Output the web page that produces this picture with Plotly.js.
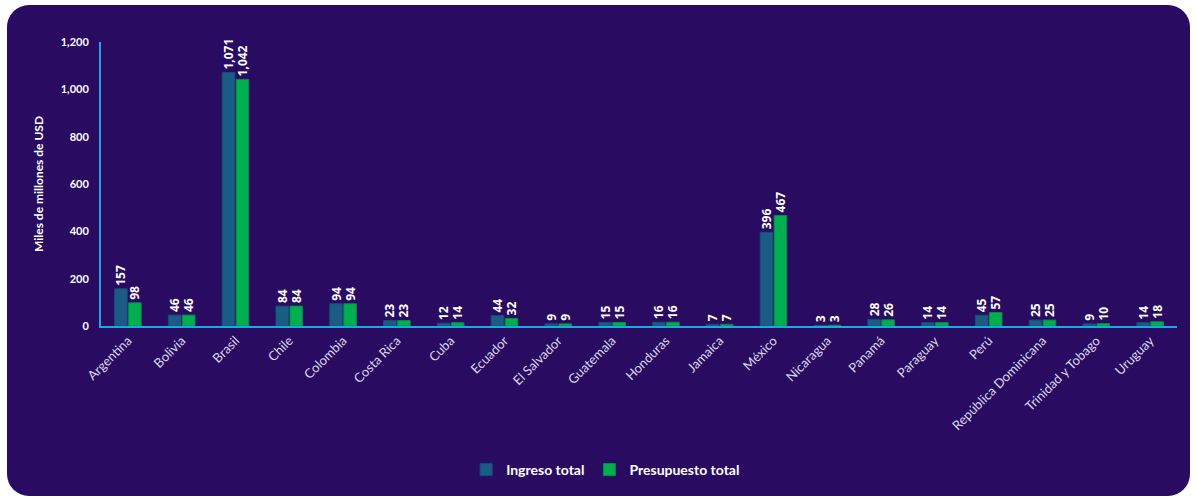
<!DOCTYPE html>
<html>
<head>
<meta charset="utf-8">
<script src="https://cdn.plot.ly/plotly-3.0.1.min.js"></script>
<style>
  html, body { margin: 0; padding: 0; background: #ffffff; width: 1198px; height: 501px; overflow: hidden; }
  #bg { position: absolute; left: 7px; top: 5px; width: 1183px; height: 491px; background: #290b61; border-radius: 22px; }
  #chart { position: absolute; left: 0; top: 0; width: 1198px; height: 501px; }
</style>
</head>
<body>
<div id="bg"></div>
<div id="chart"></div>
<script>
const countries = ["Argentina","Bolivia","Brasil","Chile","Colombia","Costa Rica","Cuba","Ecuador","El Salvador","Guatemala","Honduras","Jamaica","México","Nicaragua","Panamá","Paraguay","Perú","República Dominicana","Trinidad y Tobago","Uruguay"];
const ingresoTotal = [157,46,1071,84,94,23,12,44,9,15,16,7,396,3,28,14,45,25,9,14];
const presupuestoTotal = [98,46,1042,84,94,23,14,32,9,15,16,7,467,3,26,14,57,25,10,18];

const labelFont = {family: "'Open Sans', 'Noto Sans', sans-serif", size: 12, color: "#ffffff", weight: "bold"};

const traces = [
  {
    type: "bar", name: "Ingreso total", x: countries, y: ingresoTotal,
    marker: {color: "#1a5c85", line: {color: "#174e78", width: 1}},
    texttemplate: "<b>%{y:,}</b>", textposition: "outside", textangle: -90,
    constraintext: "none",
    textfont: labelFont, cliponaxis: false, hoverinfo: "x+y"
  },
  {
    type: "bar", name: "Presupuesto total", x: countries, y: presupuestoTotal,
    marker: {color: "#00b050", line: {color: "#0a8a48", width: 1}},
    texttemplate: "<b>%{y:,}</b>", textposition: "outside", textangle: -90,
    constraintext: "none",
    textfont: labelFont, cliponaxis: false, hoverinfo: "x+y"
  }
];

const layout = {
  width: 1198, height: 501,
  margin: {l: 101, r: 21, t: 42, b: 175},
  paper_bgcolor: "rgba(0,0,0,0)",
  plot_bgcolor: "rgba(0,0,0,0)",
  barmode: "group",
  bargap: 0.48,
  bargroupgap: 0.1,
  font: {family: "Lato, 'Noto Sans', sans-serif", color: "#ffffff"},
  showlegend: true,
  legend: {
    orientation: "h", x: 0.469, xanchor: "center", y: -0.507, yanchor: "middle",
    font: {size: 14, color: "#ffffff", weight: "bold"},
    itemwidth: 30, traceorder: "normal"
  },
  xaxis: {
    type: "category",
    tickangle: -45,
    tickfont: {size: 13, color: "#dcd8ec"},
    showline: true, linecolor: "#1fa7df", linewidth: 2,
    showgrid: false, zeroline: false, ticks: ""
  },
  yaxis: {
    range: [0, 1200], dtick: 200, tickformat: ",",
    tickfont: {size: 11, color: "#ffffff", weight: "bold"},
    showline: true, linecolor: "#1fa7df", linewidth: 2,
    showgrid: false, zeroline: false, ticks: "",
    ticklabelstandoff: 8,
    title: {text: "<b>Miles de millones de USD</b>", font: {size: 12, color: "#ffffff"}, standoff: 14}
  }
};

Plotly.newPlot("chart", traces, layout, {displayModeBar: false, staticPlot: true});
</script>
</body>
</html>
